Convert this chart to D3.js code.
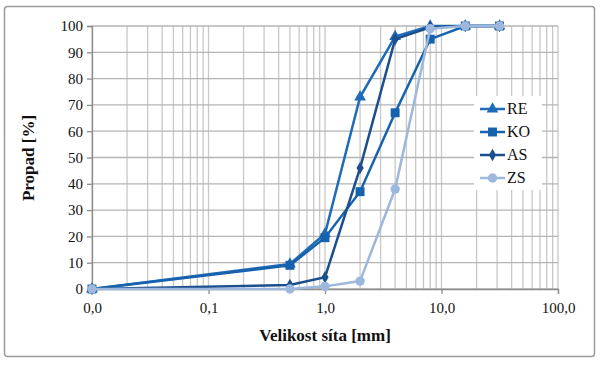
<!DOCTYPE html>
<html><head><meta charset="utf-8">
<script src="https://cdn.jsdelivr.net/npm/d3@7"></script>
<style>body{margin:0;background:#fff}svg{display:block}
svg text{font-family:"DejaVu Serif",serif}
svg text.ls{font-family:"Liberation Serif","Times New Roman",Times,"DejaVu Serif",serif}</style>
</head><body><svg id="c" width="600" height="365"></svg>
<script>
const sieves = [0.01, 0.5, 1, 2, 4, 8, 16, 31.5];
const RE = [0, 9.5, 21, 73, 96, 100, 100, 100];
const KO = [0, 9, 19.5, 37, 67, 95, 100, 100];
const AS = [0, 1.5, 4.5, 46, 95, 99.5, 100, 100];
const ZS = [0, 0, 1, 3, 38, 99, 100, 100];
const seriesNames = ["RE", "KO", "AS", "ZS"];
const xTicks = [0.01, 0.1, 1, 10, 100];
const xTickLabels = ["0,0", "0,1", "1,0", "10,0", "100,0"];
const yTicks = [0, 10, 20, 30, 40, 50, 60, 70, 80, 90, 100];

const series = [
  {name: "RE", vals: RE, color: "#1f6bb8", sym: d3.symbolTriangle, size: 60},
  {name: "KO", vals: KO, color: "#1762ac", sym: d3.symbolSquare, size: 80},
  {name: "AS", vals: AS, color: "#1b4f8e", sym: d3.symbolDiamond, size: 45},
  {name: "ZS", vals: ZS, color: "#9db8dc", sym: d3.symbolCircle, size: 70}
];

const svg = d3.select("#c");
svg.append("rect").attr("x", 4.5).attr("y", 6.5).attr("width", 590).attr("height", 350)
  .attr("rx", 3).attr("fill", "#fff").attr("stroke", "#9a9a9a").attr("stroke-width", 1.5);

const x = d3.scaleLog().domain([0.01, 100]).range([92, 558]);
const y = d3.scaleLinear().domain([0, 100]).range([289, 26]);

const g = svg.append("g");
const vgrid = [];
for (let e = -2; e < 2; e++) for (let m = 1; m <= 9; m++) vgrid.push(m * Math.pow(10, e));
vgrid.push(100);
g.selectAll(".vg").data(vgrid).enter().append("line")
  .attr("x1", d => x(d)).attr("x2", d => x(d)).attr("y1", y(0)).attr("y2", y(100))
  .attr("stroke", "#c8c8c8").attr("stroke-width", 1.3);
g.selectAll(".hg").data(yTicks).enter().append("line")
  .attr("x1", x(0.01)).attr("x2", x(100)).attr("y1", d => y(d)).attr("y2", d => y(d))
  .attr("stroke", "#b4b4b4").attr("stroke-width", 1.3);

const xAxis = d3.axisBottom(x).tickValues(xTicks).tickFormat((d, i) => xTickLabels[i]).tickSize(5).tickPadding(8);
const gx = svg.append("g").attr("transform", `translate(0,${y(0)})`).call(xAxis);
const yAxis = d3.axisLeft(y).tickValues(yTicks).tickSize(5).tickPadding(4);
const gy = svg.append("g").attr("transform", `translate(${x(0.01)},0)`).call(yAxis);
[gx, gy].forEach(a => {
  a.attr("font-family", null).attr("font-size", 15);
  a.select(".domain").attr("stroke", "#8c8c8c").attr("stroke-width", 1.3);
  a.selectAll(".tick line").attr("stroke", "#8c8c8c").attr("stroke-width", 1.3);
  a.selectAll("text").attr("class", "ls").attr("fill", "#111");
});

const line = d3.line().x(d => x(d[0])).y(d => y(d[1]));
series.forEach(s => {
  const pts = sieves.map((v, i) => [v, s.vals[i]]);
  svg.append("path").datum(pts).attr("d", line).attr("fill", "none")
    .attr("stroke", s.color).attr("stroke-width", 2.5);
  svg.selectAll(null).data(pts).enter().append("path")
    .attr("d", d3.symbol().type(s.sym).size(s.size))
    .attr("transform", d => `translate(${x(d[0])},${y(d[1])})`)
    .attr("fill", s.color);
});

const lg = svg.append("g");
lg.append("rect").attr("x", 474).attr("y", 96).attr("width", 68).attr("height", 94).attr("fill", "#fff");
const ly = [109, 132, 155, 178];
series.forEach((s, i) => {
  lg.append("line").attr("x1", 480).attr("x2", 505).attr("y1", ly[i]).attr("y2", ly[i])
    .attr("stroke", s.color).attr("stroke-width", 2.5);
  lg.append("path").attr("d", d3.symbol().type(s.sym).size(s.size))
    .attr("transform", `translate(492.5,${ly[i]})`).attr("fill", s.color);
  lg.append("text").attr("class", "ls").attr("x", 507).attr("y", ly[i] + 5).text(seriesNames[i])
    .attr("font-size", 16).attr("fill", "#111");
});

svg.append("text").attr("class", "ls").attr("x", 325).attr("y", 341).attr("text-anchor", "middle")
  .attr("font-weight", "bold").attr("font-size", 17).attr("fill", "#111")
  .text("Velikost síta [mm]");
svg.append("text").attr("class", "ls").attr("transform", "translate(34,158) rotate(-90)").attr("text-anchor", "middle")
  .attr("font-weight", "bold").attr("font-size", 17).attr("fill", "#111")
  .text("Propad [%]");
</script></body></html>
